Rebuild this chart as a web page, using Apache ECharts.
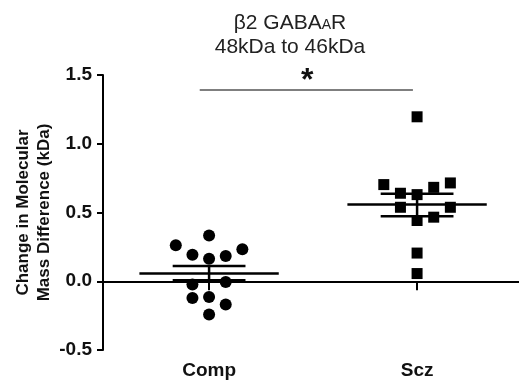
<!DOCTYPE html>
<html><head><meta charset="utf-8">
<script src="https://cdn.jsdelivr.net/npm/echarts@6/dist/echarts.min.js"></script>
<style>html,body{margin:0;padding:0;background:#fff}#c{width:519px;height:380px}</style>
</head><body><div id="c"></div>
<script>
// ---- data ----
const categories = ['Comp', 'Scz'];
const compValues = [0.333, 0.261, 0.232, 0.193, 0.183, 0.164, -0.024, -0.005, -0.121, -0.114, -0.169, -0.241];
const compColumns = [0, -2, 2, -1, 1, 0, -1, 1, -1, 0, 1, 0];
const sczValues = [1.196, 0.703, 0.715, 0.640, 0.683, 0.630, 0.538, 0.538, 0.442, 0.466, 0.205, 0.056];
const sczColumns = [0, -2, 2, -1, 1, 0, -1, 2, 0, 1, 0, 0];
const means = [0.056, 0.558];
const semUpper = [0.111, 0.636];
const semLower = [0.007, 0.473];
const yTicks = [-0.5, 0.0, 0.5, 1.0, 1.5];

const colStep = 0.08;
const F = '"Liberation Sans", Arial, sans-serif';

function pts(vals, cols, cat) {
  return vals.map((v, i) => [cat + 1 + cols[i] * colStep, v]);
}
const summary = categories.map((c, i) => [i + 1, means[i], semUpper[i], semLower[i]]);

const chart = echarts.init(document.getElementById('c'));
chart.setOption({
  animation: false,
  grid: {left: 103, right: 0, top: 75, bottom: 30, outerBoundsMode: 'none', containLabel: false},
  xAxis: [{
    type: 'value', min: 0.49, max: 2.49, position: 'bottom',
    axisLine: {onZero: true, lineStyle: {color: '#000', width: 2}},
    axisTick: {show: true, customValues: [1, 2], length: 9, lineStyle: {color: '#000', width: 2}},
    axisLabel: {show: false}, splitLine: {show: false}
  }, {
    type: 'value', min: 0.49, max: 2.49, position: 'bottom',
    axisLine: {show: false, onZero: false}, axisTick: {show: false}, splitLine: {show: false},
    axisLabel: {show: true, customValues: [1, 2], margin: 11,
      formatter: v => categories[Math.round(v) - 1],
      fontFamily: F, fontSize: 19, fontWeight: 'bold', color: '#111'}
  }],
  yAxis: {
    type: 'value', min: -0.5, max: 1.5, interval: 0.5,
    axisLine: {show: true, lineStyle: {color: '#000', width: 2}},
    axisTick: {show: true, length: 6, lineStyle: {color: '#000', width: 2}},
    splitLine: {show: false},
    axisLabel: {fontFamily: F, fontSize: 19, fontWeight: 'bold', color: '#111', margin: 11,
      formatter: v => v.toFixed(1)},
    name: 'Change in Molecular\nMass Difference (kDa)', nameLocation: 'middle', nameRotate: 90,
    nameGap: 48, nameMoveOverlap: false,
    nameTextStyle: {fontFamily: F, fontSize: 17, fontWeight: 'bold', color: '#111', lineHeight: 21}
  },
  graphic: [
    {type: 'text', left: 290 - 100, top: 11, style: {
      text: 'β2 GABA{s|A}R\n48kDa to 46kDa', x: 100, textAlign: 'center', width: 200,
      font: '21px ' + F, fill: '#222', lineHeight: 24,
      rich: {s: {fontSize: 14, fontFamily: F, fill: '#222', verticalAlign: 'bottom', padding: [0, 0, 3, 0]}}
    }},
    {type: 'text', left: 301, top: 65, style: {text: '*', font: 'bold 32px ' + F, fill: '#111'}}
  ],
  series: [
    {type: 'scatter', data: pts(compValues, compColumns, 0), symbol: 'circle', symbolSize: 12,
      itemStyle: {color: '#000', opacity: 1}, z: 3,
      markLine: {silent: true, symbol: 'none', label: {show: false},
        lineStyle: {color: '#555', width: 1.5, type: 'solid'},
        data: [[{coord: [0.955, 1.39]}, {coord: [1.98, 1.39]}]]}},
    {type: 'scatter', data: pts(sczValues, sczColumns, 1), symbol: 'rect', symbolSize: 11,
      itemStyle: {color: '#000', opacity: 1}, z: 3},
    {type: 'custom', data: summary, z: 4, renderItem: (params, api) => {
      const x = api.value(0), m = api.value(1), u = api.value(2), l = api.value(3);
      const a = api.coord([x - 0.335, m]), b = api.coord([x + 0.335, m]);
      const cu1 = api.coord([x - 0.175, u]), cu2 = api.coord([x + 0.175, u]);
      const cl1 = api.coord([x - 0.175, l]), cl2 = api.coord([x + 0.175, l]);
      const vu = api.coord([x, u]), vl = api.coord([x, l]);
      const st = {stroke: '#000', lineWidth: 2.5};
      return {type: 'group', children: [
        {type: 'line', shape: {x1: a[0], y1: a[1], x2: b[0], y2: b[1]}, style: st},
        {type: 'line', shape: {x1: cu1[0], y1: cu1[1], x2: cu2[0], y2: cu2[1]}, style: st},
        {type: 'line', shape: {x1: cl1[0], y1: cl1[1], x2: cl2[0], y2: cl2[1]}, style: st},
        {type: 'line', shape: {x1: vu[0], y1: vu[1], x2: vl[0], y2: vl[1]}, style: st}
      ]};
    }}
  ]
});
</script></body></html>
